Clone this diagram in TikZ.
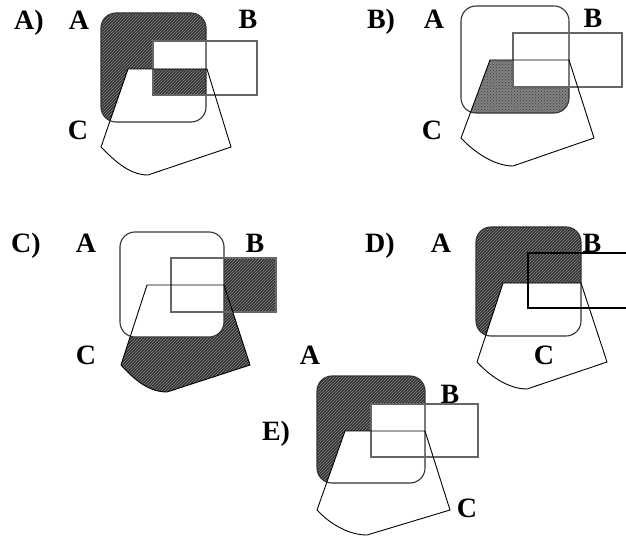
\documentclass[tikz,border=0pt]{standalone}
\usepackage{fontspec}
\setmainfont{Liberation Serif}
\usetikzlibrary{patterns}
\tikzset{
  lbl/.style={font=\fontsize{28}{28}\selectfont\bfseries, anchor=base, inner sep=0pt},
  aline/.style={draw=black!80, line width=1.1pt, rounded corners=15pt},
  bline/.style={draw=black!60, line width=1.1pt},
  cline/.style={draw=black, line width=0.9pt},
  hatch/.style={preaction={fill=black!80}, pattern=north east lines, pattern color=black!48},
  hatcheo/.style={preaction={fill=black!80, even odd rule}, pattern=north east lines, pattern color=black!48, even odd rule},
  lhatcheo/.style={preaction={fill=black!50, even odd rule}, pattern=crosshatch dots, pattern color=black!75, even odd rule},
}
\begin{document}
\begin{tikzpicture}[x=1pt,y=-1pt]
\useasboundingbox (0,0) rectangle (626,537);
\fill[white] (0,0) rectangle (626,537);

% ---------------- Panel A ----------------
\begin{scope}
  \clip[rounded corners=15pt] (101,13) rectangle (206,122);
  \fill[hatcheo] (0,0) rectangle (626,537)
     (153,41) rectangle (257,95)
     (128,69) -- (207,69) -- (231,147) -- (148,175) .. controls (128,175) and (112,158) .. (101,147) -- cycle;
\end{scope}
\draw[aline] (101,13) rectangle (206,122);
\draw[bline] (153,41) rectangle (257,95);
\draw[cline] (128,69) -- (207,69) -- (231,147) -- (148,175) .. controls (128,175) and (112,158) .. (101,147) -- cycle;
\node[lbl] (pA) at (29,30) {A)};
\node[lbl] (aA) at (79,30) {A};
\node[lbl] (aB) at (248,29) {B};
\node[lbl] (aC) at (78,140) {C};

% ---------------- Panel B ----------------
\begin{scope}
  \clip[rounded corners=15pt] (461,6) rectangle (569,113);
  \clip (490,60) -- (569,60) -- (594,138) -- (513,166) .. controls (493,166) and (472,150) .. (461,138) -- cycle;
  \fill[lhatcheo] (0,0) rectangle (626,537) (513,33) rectangle (622,87);
\end{scope}
\draw[aline] (461,6) rectangle (569,113);
\draw[bline] (513,33) rectangle (622,87);
\draw[cline] (490,60) -- (569,60) -- (594,138) -- (513,166) .. controls (493,166) and (472,150) .. (461,138) -- cycle;
\node[lbl] (bp) at (381,29) {B)};
\node[lbl] (bA) at (434,29) {A};
\node[lbl] (bB) at (593,28) {B};
\node[lbl] (bC) at (432,140) {C};

% ---------------- Panel C ----------------
\fill[hatch] (171,258) rectangle (276,312);
\fill[hatch] (147,285) -- (224,285) -- (250,365) -- (167,392) .. controls (147,392) and (132,377) .. (121,365) -- cycle;
\fill[white, rounded corners=15pt] (120,232) rectangle (224,337);
\draw[aline] (120,232) rectangle (224,337);
\draw[bline] (171,258) rectangle (276,312);
\draw[cline] (147,285) -- (224,285) -- (250,365) -- (167,392) .. controls (147,392) and (132,377) .. (121,365) -- cycle;
\node[lbl] (cp) at (26,253) {C)};
\node[lbl] (cA) at (86,253) {A};
\node[lbl] (cB) at (255,253) {B};
\node[lbl] (cC) at (86,364) {C};

% ---------------- Panel D ----------------
\begin{scope}
  \clip[rounded corners=15pt] (476,227) rectangle (581,336);
  \fill[hatcheo] (0,0) rectangle (626,537)
     (503,283) -- (581,283) -- (607,362) -- (527,389) .. controls (507,389) and (488,374) .. (477,362) -- cycle;
\end{scope}
\draw[aline] (476,227) rectangle (581,336);
\draw[bline, draw=black] (626,253) -- (528,253) -- (528,308) -- (626,308);
\draw[cline] (503,283) -- (581,283) -- (607,362) -- (527,389) .. controls (507,389) and (488,374) .. (477,362) -- cycle;
\node[lbl] (dp) at (380,253) {D)};
\node[lbl] (dA) at (441,253) {A};
\node[lbl] (dB) at (592,253) {B};
\node[lbl] (dC) at (544,364) {C};

% ---------------- Panel E ----------------
\begin{scope}
  \clip[rounded corners=15pt] (317,376) rectangle (425,483);
  \fill[hatch] (317,376) rectangle (425,483);
  \fill[white] (371,404) rectangle (478,457);
  \fill[white] (345,431) -- (425,431) -- (450,510) -- (367,535) .. controls (347,535) and (328,522) .. (317,510) -- cycle;
\end{scope}
\draw[aline] (317,376) rectangle (425,483);
\draw[bline] (371,404) rectangle (478,457);
\draw[cline] (345,431) -- (425,431) -- (450,510) -- (367,535) .. controls (347,535) and (328,522) .. (317,510) -- cycle;
\node[lbl] (ep) at (276,440) {E)};
\node[lbl] (eA) at (310,364) {A};
\node[lbl] (eB) at (450,403) {B};
\node[lbl] (eC) at (467,517) {C};
\end{tikzpicture}
\end{document}
